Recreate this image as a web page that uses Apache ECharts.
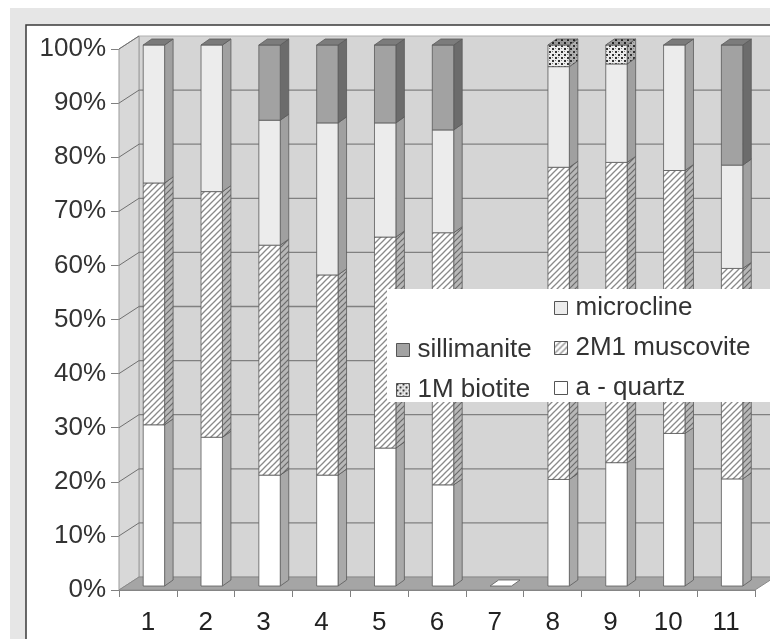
<!DOCTYPE html>
<html>
<head>
<meta charset="utf-8">
<script src="https://cdn.jsdelivr.net/npm/echarts@6/dist/echarts.min.js"></script>
<style>html,body{margin:0;padding:0;background:#fff}#c{width:770px;height:639px}</style>
</head>
<body>
<div id="c"></div>
<script>
// ---- data ----
const categories = ['1','2','3','4','5','6','7','8','9','10','11'];
const quartz      = [29.8, 27.5, 20.5, 20.5, 25.5, 18.7, 0, 19.7, 22.8, 28.2, 19.8];
const muscovite   = [44.7, 45.4, 42.5, 37.0, 39.0, 46.6, 0, 57.7, 55.5, 48.6, 38.9];
const microcline  = [25.5, 27.1, 23.1, 28.1, 21.1, 19.0, 0, 18.6, 18.2, 23.2, 19.1];
const biotite     = [0, 0, 0, 0, 0, 0, 0, 4.0, 3.5, 0, 0];
const sillimanite = [0, 0, 13.9, 14.4, 14.4, 15.7, 0, 0, 0, 0, 22.2];
const yTicks = [0,10,20,30,40,50,60,70,80,90,100];

const seriesDefs = [
  {name:'a - quartz', values: quartz},
  {name:'2M1 muscovite', values: muscovite},
  {name:'microcline', values: microcline},
  {name:'1M biotite', values: biotite},
  {name:'sillimanite', values: sillimanite}
];

// ---- patterns ----
function hatch(bg, fg, lw){
  const c = document.createElement('canvas'); c.width = 6; c.height = 6;
  const g = c.getContext('2d');
  g.fillStyle = bg; g.fillRect(0,0,6,6);
  g.strokeStyle = fg; g.lineWidth = lw;
  g.beginPath(); g.moveTo(-1,7); g.lineTo(7,-1); g.stroke();
  g.beginPath(); g.moveTo(-4,4); g.lineTo(4,-4); g.stroke();
  g.beginPath(); g.moveTo(2,10); g.lineTo(10,2); g.stroke();
  return {image: c, repeat: 'repeat'};
}
function dots(bg, fg){
  const c = document.createElement('canvas'); c.width = 6; c.height = 6;
  const g = c.getContext('2d');
  g.fillStyle = bg; g.fillRect(0,0,6,6);
  g.fillStyle = fg;
  g.fillRect(0,0,2,2); g.fillRect(3,3,2,2);
  g.fillStyle = '#888'; g.fillRect(3,0,1,1); g.fillRect(0,3,1,1);
  return {image: c, repeat: 'repeat'};
}

const styles = {
  'a - quartz':    {front:'#ffffff', side:'#a9a9a9', top:'#ffffff'},
  '2M1 muscovite': {front:hatch('#ffffff','#8a8a8a',1.3), side:hatch('#b8b8b8','#6a6a6a',1.2), top:'#8a8a8a'},
  'microcline':    {front:'#ececec', side:'#a0a0a0', top:'#7a7a7a'},
  '1M biotite':    {front:dots('#ececec','#333'), side:dots('#b0b0b0','#333'), top:dots('#999','#222')},
  'sillimanite':   {front:'#a2a2a2', side:'#6c6c6c', top:'#7c7c7c'}
};

const totals = categories.map((_, i) => seriesDefs.reduce((s, d) => s + d.values[i], 0));

// bar 3D geometry
const OX = 6, OY = -4, DX = 8.5, DY = -6;
const WALL_DX = 20, WALL_DY = -13;
const EDGE = '#5a5a5a';

function makeRender(st){
  return function(params, api){
    const i = api.value(0), b = api.value(1), t = api.value(2), isTop = api.value(3);
    const p0 = api.coord([i, b]), p1 = api.coord([i, t]);
    const w = api.size([1, 0])[0] * 0.37;
    const x0 = p0[0] + OX - w/2, x1 = x0 + w;
    const yb = p0[1] + OY, yt = p1[1] + OY;
    const ch = [];
    if (t > b) {
      ch.push({type:'polygon', shape:{points:[[x1,yt],[x1+DX,yt+DY],[x1+DX,yb+DY],[x1,yb]]},
        style:{fill: st.side, stroke: EDGE, lineWidth: 0.8}});
      ch.push({type:'rect', shape:{x:x0, y:yt, width:w, height:yb-yt},
        style:{fill: st.front, stroke: EDGE, lineWidth: 0.8}});
    }
    if (isTop) {
      ch.push({type:'polygon', shape:{points:[[x0,yt],[x1,yt],[x1+DX,yt+DY],[x0+DX,yt+DY]]},
        style:{fill: st.top, stroke: EDGE, lineWidth: 0.8}});
    }
    return {type:'group', children: ch};
  };
}

const barSeries = [];
const cum = categories.map(() => 0);
seriesDefs.forEach((d, si) => {
  const data = categories.map((_, i) => {
    const b = cum[i], t = b + d.values[i];
    cum[i] = t;
    let isTop = 0;
    if (totals[i] === 0) isTop = si === 0 ? 1 : 0;
    else if (d.values[i] > 0 && Math.abs(t - totals[i]) < 1e-6) isTop = 1;
    return [i, b, t, isTop];
  });
  barSeries.push({
    type:'custom', name: d.name, data: data,
    encode:{x:0, y:2}, z: 3,
    itemStyle:{color: styles[d.name].front, borderColor:'#555', borderWidth:1},
    renderItem: makeRender(styles[d.name])
  });
});

const wallSeries = {
  type:'custom', name:'walls', data:[[0]], z: 1, silent: true,
  encode:{x:0, y:0},
  renderItem: function(params, api){
    const cw = api.size([1,0])[0];
    const L = api.coord([0, 0])[0] - cw/2;
    const R = api.coord([categories.length-1, 0])[0] + cw/2;
    const y0 = api.coord([0, 0])[1], y100 = api.coord([0, 100])[1];
    const ch = [];
    // back wall
    ch.push({type:'rect', shape:{x:L+WALL_DX, y:y100+WALL_DY, width:R-L+40, height:y0-y100},
      style:{fill:'#d5d5d5', stroke:'#b0b0b0', lineWidth:1}});
    // left wall
    ch.push({type:'polygon', shape:{points:[[L,y100],[L+WALL_DX,y100+WALL_DY],[L+WALL_DX,y0+WALL_DY],[L,y0]]},
      style:{fill:'#d8d8d8', stroke:'#9a9a9a', lineWidth:1}});
    // floor
    ch.push({type:'polygon', shape:{points:[[L,y0],[R,y0],[R+WALL_DX,y0+WALL_DY],[L+WALL_DX,y0+WALL_DY]]},
      style:{fill:'#a5a5a5', stroke:'#8a8a8a', lineWidth:1}});
    yTicks.forEach(v => {
      if (v === 0) return;
      const y = api.coord([0, v])[1];
      ch.push({type:'line', shape:{x1:L, y1:y, x2:L+WALL_DX, y2:y+WALL_DY},
        style:{stroke:'#707070', lineWidth:1}});
      if (v < 100) ch.push({type:'line', shape:{x1:L+WALL_DX, y1:y+WALL_DY, x2:R+WALL_DX+40, y2:y+WALL_DY},
        style:{stroke:'#808080', lineWidth:1.3}});
    });
    return {type:'group', children: ch};
  }
};

const FONT = 'Liberation Sans, Arial, sans-serif';
const chart = echarts.init(document.getElementById('c'), null, {renderer:'canvas'});
chart.setOption({
  animation: false,
  backgroundColor: '#ffffff',
  graphic: [
    {type:'rect', z:-10, shape:{x:10, y:8, width:770, height:640}, style:{fill:'#e6e6e6'}},
    {type:'rect', z:-9, shape:{x:26, y:25, width:760, height:630}, style:{fill:'#ffffff', stroke:'#3a3a3a', lineWidth:1.5}},
    {type:'rect', z:10, shape:{x:387, y:289, width:400, height:113}, style:{fill:'#ffffff'}}
  ],
  grid: {left:119, right:15, top:49, bottom:49, containLabel:false},
  xAxis: {
    type:'category', data: categories, boundaryGap: true,
    axisLine:{lineStyle:{color:'#808080', width:1}},
    axisTick:{show:true, interval:0, length:7, lineStyle:{color:'#808080'}},
    axisLabel:{interval:0, color:'#222', fontFamily:FONT, fontSize:26, margin:20},
    splitLine:{show:false}
  },
  yAxis: {
    type:'value', min:0, max:100, interval:10,
    axisLine:{show:true, lineStyle:{color:'#808080', width:1}},
    axisTick:{show:true, length:8, lineStyle:{color:'#808080'}},
    axisLabel:{formatter:'{value}%', color:'#333', fontFamily:FONT, fontSize:26, margin:13},
    splitLine:{show:false}
  },
  legend: [
    {data:['sillimanite','1M biotite'], orient:'vertical', left:391, top:332, z:11,
     itemWidth:13, itemHeight:13, itemGap:14, icon:'rect', selectedMode:false,
     itemStyle:{borderColor:'#555', borderWidth:1},
     textStyle:{fontFamily:FONT, fontSize:26, color:'#333', padding:[0,0,0,3]}},
    {data:['microcline','2M1 muscovite','a - quartz'], orient:'vertical', left:549, top:290, z:11,
     itemWidth:13, itemHeight:13, itemGap:14, icon:'rect', selectedMode:false,
     itemStyle:{borderColor:'#555', borderWidth:1},
     textStyle:{fontFamily:FONT, fontSize:26, color:'#333', padding:[0,0,0,3]}}
  ],
  series: [wallSeries].concat(barSeries)
});
</script>
</body>
</html>
